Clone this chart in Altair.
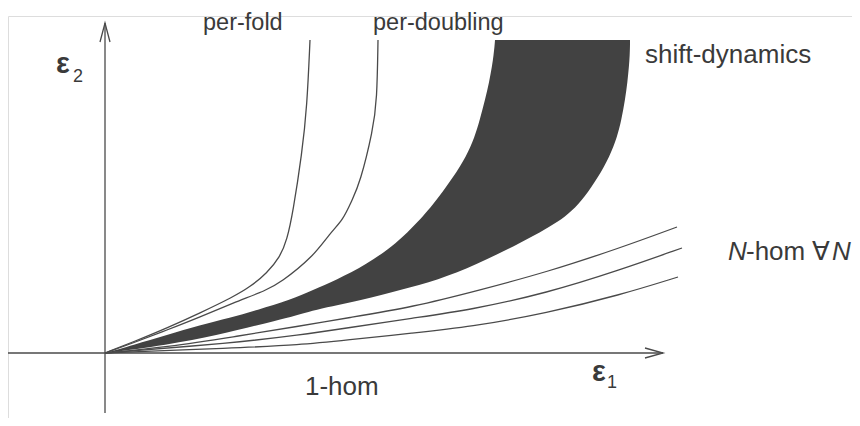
import altair as alt
import pandas as pd

# ---- curves (e1, e2), origin at the axes crossing ----
fold_e1 = [0, 28, 62, 95, 128, 145, 162, 175, 182, 188, 197, 202, 205]
fold_e2 = [0, 11, 25, 40, 56, 66, 80, 96, 113, 141, 200, 246, 313]

doub_e1 = [0, 28, 62, 95, 128, 162, 175, 208, 225, 238, 247, 255, 268, 272, 273]
doub_e2 = [0, 10, 23, 36, 50, 63, 70, 96, 120, 133, 153, 170, 223, 253, 313]

hom1_e1 = [0, 62, 128, 195, 242, 308, 375, 442, 515, 572]
hom1_e2 = [0, 6, 16, 27, 35, 46, 63, 81, 105, 126]

hom2_e1 = [0, 128, 195, 242, 308, 365, 442, 515, 577]
hom2_e2 = [0, 10, 18, 25, 35, 43, 60, 83, 105]

hom3_e1 = [0, 128, 195, 242, 308, 365, 442, 515, 573]
hom3_e2 = [0, 5, 8, 13, 20, 26, 40, 58, 76]

# ---- shift-dynamics band: e2 levels with left and right e1 boundaries ----
band_e2 = [0, 8, 18, 28, 35, 43, 53, 63, 73, 88, 110, 131, 153, 198, 233, 273, 300, 313]
band_left = [0, 28, 62, 95, 125, 152, 185, 208, 231, 261, 292, 313, 332, 364, 375, 385, 389, 390]
band_right = [0, 62, 113, 153, 183, 208, 258, 295, 333, 371, 415, 455, 479, 507, 517, 523, 525, 525]

# ---- axes ----
yaxis_e2 = [-60, 330]
xaxis_e1 = [-97, 558]
yarrow_e1 = [-5, 0, 5]
yarrow_e2 = [311, 330, 311]
xarrow_e1 = [540, 558, 540]
xarrow_e2 = [5, 0, -5]

# ---- labels ----
top_text = ["per-fold", "per-doubling"]
top_e1 = [98, 268]
top_e2 = [323.5, 323.5]
lab_text = ["shift-dynamics", "-hom", "\u2200", "1-hom"]
lab_e1 = [540, 641, 707, 200]
lab_e2 = [290, 93, 93, -42]
ital_text = ["N", "N"]
ital_e1 = [623, 727]
ital_e2 = [93, 93]
eps_text = ["\u03b5", "\u03b5"]
eps_e1 = [-49, 487]
eps_e2 = [280, -28]
sub_text = ["2", "1"]
sub_e1 = [-32, 502]
sub_e2 = [271, -35]

INK = "#4a4a4a"
TXT = "#3a3a3a"
FONT = "Liberation Sans"

xs = alt.Scale(domain=[-97, 747], nice=False, zero=False)
ys = alt.Scale(domain=[-65, 337], nice=False, zero=False)

rows = []
for name, a, b in [("fold", fold_e1, fold_e2), ("doub", doub_e1, doub_e2),
                   ("h1", hom1_e1, hom1_e2), ("h2", hom2_e1, hom2_e2),
                   ("h3", hom3_e1, hom3_e2)]:
    for i, (u, v) in enumerate(zip(a, b)):
        rows.append({"curve": name, "i": i, "e1": u, "e2": v})
curves = pd.DataFrame(rows)

arows = []
for name, a, b in [("ya", yarrow_e1, yarrow_e2), ("xa", xarrow_e1, xarrow_e2)]:
    for i, (u, v) in enumerate(zip(a, b)):
        arows.append({"curve": name, "i": i, "e1": u, "e2": v})
arrows = pd.DataFrame(arows)

band = pd.DataFrame({"e2": band_e2, "l": band_left, "r": band_right})

axes = pd.DataFrame({
    "x": [0, xaxis_e1[0]], "x2": [0, xaxis_e1[1]],
    "y": [yaxis_e2[0], 0], "y2": [yaxis_e2[1], 0],
})

band_layer = alt.Chart(band).mark_area(orient="horizontal", color="#424242", interpolate="basis").encode(
    y=alt.Y("e2:Q", scale=ys, axis=None),
    x=alt.X("l:Q", scale=xs, axis=None),
    x2="r:Q",
)

axes_layer = alt.Chart(axes).mark_rule(color=INK, strokeWidth=1.3).encode(
    x=alt.X("x:Q", scale=xs, axis=None), x2="x2:Q",
    y=alt.Y("y:Q", scale=ys, axis=None), y2="y2:Q",
)

curve_layer = alt.Chart(curves).mark_line(color=INK, strokeWidth=1.3, interpolate="basis").encode(
    x=alt.X("e1:Q", scale=xs, axis=None),
    y=alt.Y("e2:Q", scale=ys, axis=None),
    detail="curve:N",
    order="i:Q",
)

arrow_layer = alt.Chart(arrows).mark_line(color=INK, strokeWidth=1.3).encode(
    x=alt.X("e1:Q", scale=xs, axis=None),
    y=alt.Y("e2:Q", scale=ys, axis=None),
    detail="curve:N",
    order="i:Q",
)


def text_layer(texts, a, b, size, **kw):
    df = pd.DataFrame({"t": texts, "e1": a, "e2": b})
    return alt.Chart(df).mark_text(align="left", baseline="alphabetic", font=FONT,
                                   fontSize=size, color=TXT, **kw).encode(
        x=alt.X("e1:Q", scale=xs, axis=None),
        y=alt.Y("e2:Q", scale=ys, axis=None),
        text="t:N",
    )


tops = text_layer(top_text, top_e1, top_e2, 23.5)
labels = text_layer(lab_text, lab_e1, lab_e2, 26)
ital = text_layer(ital_text, ital_e1, ital_e2, 26, fontStyle="italic")
eps = text_layer(eps_text, eps_e1, eps_e2, 29, fontWeight="bold")
subs = text_layer(sub_text, sub_e1, sub_e2, 18)

chart = alt.layer(band_layer, axes_layer, curve_layer, arrow_layer, tops, labels, ital, eps, subs).properties(
    width=844, height=402, padding={"top": 8, "left": 0, "right": 0, "bottom": 0},
    autosize="none",
).configure_view(stroke=None).configure(background="white")

chart.save("out.html", embed_options={"renderer": "svg", "actions": False})
